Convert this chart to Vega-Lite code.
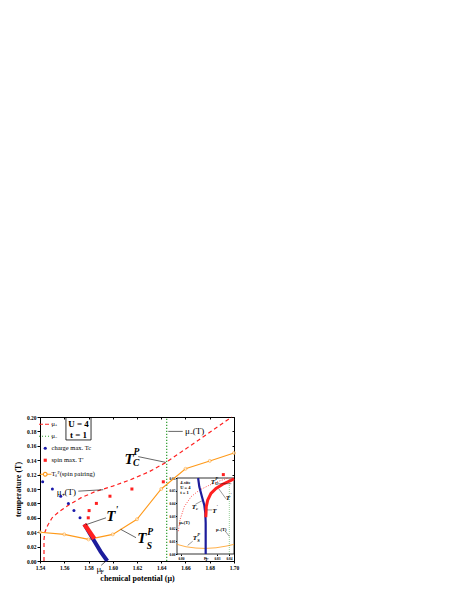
{
"$schema": "https://vega.github.io/schema/vega-lite/v6.json",
"width": 194, "height": 144,
"autosize": "none",
"padding": {"left": 40, "top": 417, "right": 226, "bottom": 34},
"background": "white",
"config": {
  "view": {"stroke": "black", "strokeWidth": 1},
  "font": "Liberation Serif",
  "axis": {"domainColor": "black", "tickColor": "black", "labelColor": "black", "titleColor": "black", "grid": false, "labelFont": "Liberation Serif", "titleFont": "Liberation Serif"},
  "text": {"font": "Liberation Serif", "color": "black"}
},
"datasets": {
  "mu_plus": [
    {"series":"a","mu":1.5433,"T":0},{"series":"a","mu":1.5433,"T":0.03},{"series":"a","mu":1.544,"T":0.04},
    {"series":"a","mu":1.5465,"T":0.05},{"series":"a","mu":1.55,"T":0.06},{"series":"a","mu":1.556,"T":0.069},
    {"series":"a","mu":1.564,"T":0.078},{"series":"a","mu":1.574,"T":0.088},{"series":"a","mu":1.585,"T":0.096},
    {"series":"a","mu":1.6,"T":0.104},{"series":"a","mu":1.614,"T":0.1125},{"series":"a","mu":1.63,"T":0.124},
    {"series":"a","mu":1.644,"T":0.137},{"series":"a","mu":1.657,"T":0.152},{"series":"a","mu":1.675,"T":0.173},
    {"series":"a","mu":1.6912,"T":0.192},{"series":"a","mu":1.698,"T":0.2}
  ],
  "mu_minus": [{"mu":1.6445,"T":0},{"mu":1.6445,"T":0.2}],
  "charge": [{"mu":1.5422,"T":0.11},{"mu":1.5502,"T":0.1},{"mu":1.5571,"T":0.09},{"mu":1.5634,"T":0.08},{"mu":1.568,"T":0.07},{"mu":1.573,"T":0.06}],
  "spin": [{"mu":1.5798,"T":0.06},{"mu":1.5805,"T":0.07},{"mu":1.5865,"T":0.08},{"mu":1.5977,"T":0.09},{"mu":1.6158,"T":0.1},{"mu":1.6417,"T":0.11},{"mu":1.6912,"T":0.12}],
  "ts": [{"mu":1.54,"T":0.04},{"mu":1.56,"T":0.037},{"mu":1.58,"T":0.03},{"mu":1.6,"T":0.037},{"mu":1.62,"T":0.058},{"mu":1.64,"T":0.1},{"mu":1.66,"T":0.128},{"mu":1.68,"T":0.139},{"mu":1.7,"T":0.15}],
  "fermi": [{"mu":1.5766,"T":0.051},{"mu":1.584,"T":0.03},{"mu":1.59,"T":0.013},{"mu":1.5955,"T":0}],
  "tprime": [{"mu":1.5766,"T":0.051},{"mu":1.5848,"T":0.031}],
  "arrows": [
    {"mu":1.621,"T":0.145,"mu2":1.6437,"T2":0.137},
    {"mu":1.6577,"T":0.18,"mu2":1.6458,"T2":0.18},
    {"mu":1.5716,"T":0.097,"mu2":1.5922,"T2":0.099},
    {"mu":1.5944,"T":0.06,"mu2":1.5779,"T2":0.0504},
    {"mu":1.6192,"T":0.0324,"mu2":1.6065,"T2":0.044},
    {"mu":1.5905,"T":-0.006,"mu2":1.5945,"T2":0.0}
  ],
  "bigT": [{"mu":1.6134,"T":0.142,"label":"T"},{"mu":1.5984,"T":0.062,"label":"T"},{"mu":1.6239,"T":0.0315,"label":"T"}],
  "scripts": [
    {"mu":1.6172,"T":0.152,"label":"P"},{"mu":1.6168,"T":0.1355,"label":"C"},
    {"mu":1.6023,"T":0.071,"label":"'"},
    {"mu":1.6285,"T":0.04,"label":"P"},{"mu":1.628,"T":0.0215,"label":"S"}
  ],
  "labels": [{"mu":1.6596,"T":0.18,"label":"μ₋(T)"},{"mu":1.5538,"T":0.0954,"label":"μ₊(T)"},{"mu":1.5865,"T":-0.011,"label":"μ"}],
  "subs": [{"mu":1.5899,"T":-0.0155,"label":"F"}],
  "box": [{"mu":1.5614,"mu2":1.5821,"T":0.1681,"T2":0.1993}],
  "box_text": [{"mu":1.5718,"T":0.1896,"label":"U = 4"},{"mu":1.5718,"T":0.175,"label":"t = 1"}],
  "in_frame": [{"mu":0.7967,"mu2":0.8442,"T":0,"T2":0.06}],
  "in_blue": [{"mu":0.8143,"T":0.06},{"mu":0.8153,"T":0.053},{"mu":0.8175,"T":0.0452},{"mu":0.8194,"T":0.0387},{"mu":0.8203,"T":0.0322},{"mu":0.8206,"T":0.0244},{"mu":0.8206,"T":0}],
  "in_red": [{"mu":0.8207,"T":0.029},{"mu":0.8209,"T":0.0322},{"mu":0.8211,"T":0.0374},{"mu":0.8223,"T":0.0426},{"mu":0.825,"T":0.0478},{"mu":0.8292,"T":0.0517},{"mu":0.8348,"T":0.0551},{"mu":0.8417,"T":0.0582},{"mu":0.8442,"T":0.0594}],
  "in_mu_plus": [{"mu":0.7978,"T":0.018},{"mu":0.7992,"T":0.027},{"mu":0.8028,"T":0.0374},{"mu":0.8084,"T":0.0452},{"mu":0.8153,"T":0.0504},{"mu":0.8236,"T":0.0543},{"mu":0.832,"T":0.0576},{"mu":0.8375,"T":0.0594},{"mu":0.839,"T":0.06}],
  "in_mu_minus": [{"mu":0.8403,"T":0},{"mu":0.8403,"T":0.06}],
  "in_ts": [{"mu":0.7967,"T":0.0076},{"mu":0.8042,"T":0.0057},{"mu":0.8125,"T":0.0047},{"mu":0.8203,"T":0.0044},{"mu":0.8292,"T":0.0049},{"mu":0.8375,"T":0.0062},{"mu":0.8442,"T":0.0076}],
  "in_arrows": [
    {"mu":0.83,"T":0.0555,"mu2":0.842,"T2":0.0555},
    {"mu":0.8375,"T":0.0436,"mu2":0.8315,"T2":0.0515},
    {"mu":0.8259,"T":0.0348,"mu2":0.8219,"T2":0.0348},
    {"mu":0.812,"T":0.0392,"mu2":0.8175,"T2":0.042},
    {"mu":0.837,"T":0.0179,"mu2":0.8403,"T2":0.014},
    {"mu":0.8098,"T":0.0101,"mu2":0.8056,"T2":0.0068}
  ],
  "in_text": [
    {"mu":0.7994,"T":0.0563,"label":"4-site"},{"mu":0.7994,"T":0.0522,"label":"U = 4"},{"mu":0.7994,"T":0.0483,"label":"t = 1"},
    {"mu":0.7986,"T":0.0244,"label":"μ₊(T)"},{"mu":0.8292,"T":0.0192,"label":"μ₋(T)"},{"mu":0.8193,"T":-0.0035,"label":"μ"}
  ],
  "in_bigT": [{"mu":0.8267,"T":0.0569,"label":"T"},{"mu":0.8392,"T":0.0439,"label":"T"},{"mu":0.8278,"T":0.0343,"label":"T"},{"mu":0.8108,"T":0.0374,"label":"T"},{"mu":0.8117,"T":0.0125,"label":"T"}],
  "in_scripts": [
    {"mu":0.8285,"T":0.0592,"label":"P"},{"mu":0.8285,"T":0.0553,"label":"C"},
    {"mu":0.841,"T":0.0465,"label":"'"},{"mu":0.8296,"T":0.037,"label":"'"},
    {"mu":0.8126,"T":0.0355,"label":"c"},
    {"mu":0.8135,"T":0.0148,"label":"P"},{"mu":0.8135,"T":0.0105,"label":"S"},
    {"mu":0.8205,"T":-0.0045,"label":"F"}
  ]
},
"layer": [
  {
    "encoding": {
      "x": {"field": "mu", "type": "quantitative",
        "scale": {"domain": [1.54, 1.70], "nice": false, "zero": false},
        "axis": {"title": "chemical potential (μ)", "values": [1.54,1.56,1.58,1.6,1.62,1.64,1.66,1.68,1.7], "format": ".2f",
          "labelFontSize": 5.5, "labelFontWeight": "bold", "tickSize": 2, "labelPadding": 2, "labelFlush": false, "labelOverlap": false,
          "titleFontSize": 8, "titleFontWeight": "bold", "titlePadding": 4}},
      "y": {"field": "T", "type": "quantitative",
        "scale": {"domain": [0, 0.2], "nice": false, "zero": false},
        "axis": {"title": "temperature (T)", "values": [0,0.02,0.04,0.06,0.08,0.1,0.12,0.14,0.16,0.18,0.2], "format": ".2f",
          "labelFontSize": 5.5, "labelFontWeight": "bold", "tickSize": 3, "labelPadding": 1, "labelFlush": false, "labelOverlap": false,
          "titleFontSize": 8, "titleFontWeight": "bold", "titlePadding": 4}}
    },
    "layer": [
      {"data": {"name": "mu_plus"}, "mark": {"type": "line", "strokeDash": [4, 3], "strokeWidth": 1.2},
       "encoding": {"order": {"value": null},
         "color": {"field": "series", "type": "nominal",
           "scale": {"domain": ["a","b","c","d","e"], "range": ["#ff2020","#2a9a2a","#1a1aaa","#ff2020","#ff9a1a"]},
           "legend": {"orient": "none", "legendX": 2, "legendY": 4, "title": null, "padding": 0,
             "symbolSize": 156, "rowPadding": 5, "labelFontSize": 6.5, "labelFont": "Liberation Serif", "labelOffset": 3, "labelColor": "black",
             "labelExpr": "datum.value == 'a' ? 'μ₊' : datum.value == 'b' ? 'μ₋' : datum.value == 'c' ? 'charge max. Tc' : datum.value == 'd' ? 'spin max. T′' : 'Tₛᴾ(spin pairing)'",
             "encode": {"symbols": {"update": {
               "shape": {"signal": "datum.value == 'c' ? 'circle' : datum.value == 'd' ? 'square' : datum.value == 'e' ? 'M-1,0H-0.3M0.3,0H1M-0.3,0A0.3,0.3,0,1,0,0.3,0A0.3,0.3,0,1,0,-0.3,0' : 'stroke'"},
               "size": {"signal": "datum.value == 'c' || datum.value == 'd' ? 10 : 156"},
               "fill": {"signal": "datum.value == 'c' ? '#1a1aaa' : datum.value == 'd' ? '#ff2020' : datum.value == 'e' ? 'white' : 'transparent'"},
               "stroke": {"signal": "datum.value == 'a' ? '#ff2020' : datum.value == 'b' ? '#2a9a2a' : datum.value == 'c' ? '#1a1aaa' : datum.value == 'd' ? '#ff2020' : '#ff9a1a'"},
               "strokeDash": {"signal": "datum.value == 'a' ? [4,2] : datum.value == 'b' ? [1,2] : [1,0]"},
               "strokeWidth": {"signal": "datum.value == 'c' || datum.value == 'd' ? 0 : 1.2"},
               "opacity": {"value": 1}
             }}}
           }}}},
      {"data": {"name": "mu_minus"}, "mark": {"type": "line", "strokeDash": [1.2, 1.8], "strokeWidth": 1.2, "color": "#2a9a2a"},
       "encoding": {"order": {"value": null}}},
      {"data": {"name": "ts"}, "mark": {"type": "line", "strokeWidth": 1.1, "color": "#ff9a1a"}, "encoding": {"order": {"value": null}}},
      {"data": {"name": "ts"}, "mark": {"type": "point", "shape": "circle", "filled": true, "fill": "white", "stroke": "#ff9a1a", "strokeWidth": 0.8, "size": 9}},
      {"data": {"name": "charge"}, "mark": {"type": "point", "shape": "circle", "filled": true, "color": "#1a1aaa", "size": 9, "opacity": 1}},
      {"data": {"name": "spin"}, "mark": {"type": "point", "shape": "square", "filled": true, "color": "#ff2020", "size": 9, "opacity": 1}},
      {"data": {"name": "fermi"}, "mark": {"type": "line", "strokeWidth": 4, "color": "#1c1c9c", "strokeCap": "butt"}, "encoding": {"order": {"value": null}}},
      {"data": {"name": "tprime"}, "mark": {"type": "line", "strokeWidth": 4.5, "color": "#ff2020", "strokeCap": "butt"}, "encoding": {"order": {"value": null}}},
      {"data": {"name": "arrows"}, "mark": {"type": "rule", "color": "black", "strokeWidth": 0.6},
       "encoding": {"x2": {"field": "mu2"}, "y2": {"field": "T2"}}},
      {"data": {"name": "bigT"}, "mark": {"type": "text", "fontSize": 15, "fontWeight": "bold", "fontStyle": "italic", "align": "center", "baseline": "middle"},
       "encoding": {"text": {"field": "label"}}},
      {"data": {"name": "scripts"}, "mark": {"type": "text", "fontSize": 9.5, "fontWeight": "bold", "fontStyle": "italic", "align": "left", "baseline": "middle"},
       "encoding": {"text": {"field": "label"}}},
      {"data": {"name": "labels"}, "mark": {"type": "text", "fontSize": 9, "align": "left", "baseline": "middle"},
       "encoding": {"text": {"field": "label"}}},
      {"data": {"name": "subs"}, "mark": {"type": "text", "fontSize": 6, "align": "left", "baseline": "middle"},
       "encoding": {"text": {"field": "label"}}},
      {"data": {"name": "box"}, "mark": {"type": "rect", "fillOpacity": 0, "fill": "white", "stroke": "black", "strokeWidth": 0.8},
       "encoding": {"x2": {"field": "mu2"}, "y2": {"field": "T2"}}},
      {"data": {"name": "box_text"}, "mark": {"type": "text", "fontSize": 9, "fontWeight": "bold", "align": "center", "baseline": "middle"},
       "encoding": {"text": {"field": "label"}}}
    ]
  },
  {
    "data": {"name": "ts"},
    "mark": {"type": "point", "opacity": 0},
    "encoding": {
      "x": {"field": "mu", "type": "quantitative", "scale": {"domain": [1.54, 1.70], "nice": false, "zero": false},
        "axis": {"orient": "top", "labels": false, "domain": false, "title": null, "tickSize": -2, "values": [1.54,1.56,1.58,1.6,1.62,1.64,1.66,1.68,1.7]}},
      "y": {"field": "T", "type": "quantitative", "scale": {"domain": [0, 0.2], "nice": false, "zero": false},
        "axis": {"orient": "right", "labels": false, "domain": false, "title": null, "tickSize": -2, "values": [0,0.02,0.04,0.06,0.08,0.1,0.12,0.14,0.16,0.18,0.2]}}
    }
  },
  {
    "encoding": {
      "x": {"field": "mu", "type": "quantitative",
        "scale": {"domain": [0.7967, 0.8442], "range": [137, 194], "nice": false, "zero": false},
        "axis": {"orient": "bottom", "offset": -7, "domain": false, "title": null, "values": [0.80, 0.83, 0.84], "format": ".2f",
          "labelFontSize": 3.5, "labelFontWeight": "bold", "tickSize": 1.5, "labelPadding": 0.5, "labelFlush": false}},
      "y": {"field": "T", "type": "quantitative",
        "scale": {"domain": [0, 0.06], "range": [137, 61], "nice": false, "zero": false},
        "axis": {"orient": "left", "offset": -137, "domain": false, "title": null, "values": [0,0.01,0.02,0.03,0.04,0.05,0.06], "format": ".2f",
          "labelFontSize": 3.5, "labelFontWeight": "bold", "tickSize": 1.5, "labelPadding": 0.5, "labelFlush": false}}
    },
    "layer": [
      {"data": {"name": "in_frame"}, "mark": {"type": "rect", "fill": "white", "stroke": "black", "strokeWidth": 0.8},
       "encoding": {"x2": {"field": "mu2"}, "y2": {"field": "T2"}}},
      {"data": {"name": "in_ts"}, "mark": {"type": "line", "strokeWidth": 0.8, "color": "#ff9a1a"}, "encoding": {"order": {"value": null}}},
      {"data": {"name": "in_mu_plus"}, "mark": {"type": "line", "strokeWidth": 0.8, "strokeDash": [1, 1.5], "color": "#ff2020"}, "encoding": {"order": {"value": null}}},
      {"data": {"name": "in_mu_minus"}, "mark": {"type": "line", "strokeWidth": 0.6, "strokeDash": [0.8, 1.2], "color": "#2a9a2a"}, "encoding": {"order": {"value": null}}},
      {"data": {"name": "in_blue"}, "mark": {"type": "line", "strokeWidth": 2.2, "color": "#1c1c9c"}, "encoding": {"order": {"value": null}}},
      {"data": {"name": "in_red"}, "mark": {"type": "line", "strokeWidth": 3, "color": "#ff2020"}, "encoding": {"order": {"value": null}}},
      {"data": {"name": "in_arrows"}, "mark": {"type": "rule", "color": "black", "strokeWidth": 0.4},
       "encoding": {"x2": {"field": "mu2"}, "y2": {"field": "T2"}}},
      {"data": {"name": "in_text"}, "mark": {"type": "text", "fontSize": 4.5, "fontWeight": "bold", "align": "left", "baseline": "middle"},
       "encoding": {"text": {"field": "label"}}},
      {"data": {"name": "in_bigT"}, "mark": {"type": "text", "fontSize": 7, "fontWeight": "bold", "fontStyle": "italic", "align": "center", "baseline": "middle"},
       "encoding": {"text": {"field": "label"}}},
      {"data": {"name": "in_scripts"}, "mark": {"type": "text", "fontSize": 4.5, "fontWeight": "bold", "fontStyle": "italic", "align": "left", "baseline": "middle"},
       "encoding": {"text": {"field": "label"}}}
    ]
  }
],
"resolve": {"scale": {"x": "independent", "y": "independent"}}
}
